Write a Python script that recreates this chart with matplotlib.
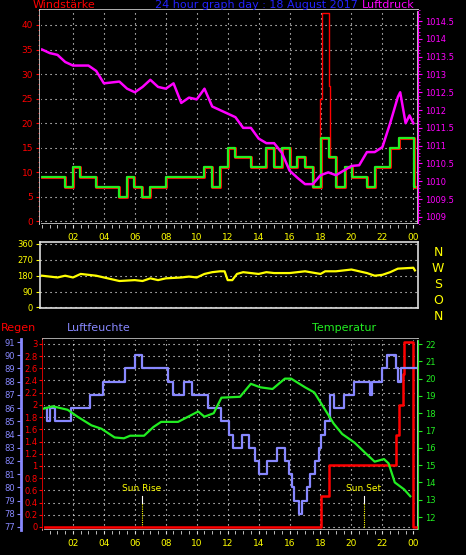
import matplotlib.pyplot as plt
import numpy as np
from matplotlib.ticker import MultipleLocator

# ---- data (hours since midnight) ----
wind_h = [0.0, 1.49, 1.98, 2.46, 3.50, 5.0, 5.48, 5.97, 6.47, 6.99, 8.0, 10.48, 10.98, 11.52, 12.02,
          12.49, 13.5, 14.48, 14.97, 15.51, 16.01, 16.48, 17.02, 17.5, 18.0, 18.53, 19.0, 19.57,
          20.04, 21.0, 21.55, 22.52, 23.06, 24.03, 24.1]
wind = [9, 7, 11, 9, 7, 5, 9, 7, 5, 7, 9, 11, 7, 11, 15, 13, 11, 15, 11, 15, 11, 13, 11, 7, 17, 13,
        7, 11, 9, 7, 11, 15, 17, 7, 7]
gust_h = [17.5, 17.95, 18.1, 18.55, 18.62, 19.0]
gust = [7, 25, 42.5, 27.5, 13, 7]

press_h = [0, 0.5, 1, 1.5, 2, 3, 3.5, 4, 5, 5.5, 6, 6.5, 7, 7.5, 8, 8.5, 9, 9.5, 10, 10.5, 11, 11.5,
           12, 12.5, 13, 13.5, 14, 14.5, 15, 15.5, 16, 16.5, 17, 17.5, 18, 18.5, 19, 19.5, 20, 20.5,
           21, 21.5, 22, 22.5, 23, 23.15, 23.5, 23.75, 24]
press = [1013.7, 1013.6, 1013.55, 1013.35, 1013.25, 1013.25, 1013.1, 1012.75, 1012.8, 1012.6,
         1012.5, 1012.65, 1012.85, 1012.65, 1012.6, 1012.75, 1012.2, 1012.35, 1012.3, 1012.6, 1012.1,
         1012.0, 1011.9, 1011.8, 1011.5, 1011.5, 1011.2, 1011.07, 1011.07, 1010.8, 1010.3, 1010.1,
         1009.92, 1009.92, 1010.17, 1010.25, 1010.17, 1010.3, 1010.43, 1010.45, 1010.82, 1010.82,
         1010.96, 1011.63, 1012.37, 1012.5, 1011.63, 1011.85, 1011.63]

dir_h = [0, 1, 1.5, 2, 2.5, 3.5, 4, 4.5, 5, 6, 6.5, 7, 7.5, 8, 9, 9.5, 10, 10.5, 11, 11.5, 11.8, 12,
         12.3, 12.6, 13, 14, 14.5, 15, 16, 17, 18, 18.3, 19, 20, 20.5, 21, 21.5, 22, 22.5, 23, 24, 24.1]
direction = [180, 170, 180, 170, 190, 180, 170, 160, 150, 155, 150, 165, 155, 165, 170, 175, 170, 190,
             200, 205, 205, 155, 155, 190, 200, 190, 200, 195, 195, 205, 190, 205, 205, 215, 205, 195,
             180, 185, 200, 220, 225, 210]

hum_h = [0.0, 0.30, 0.52, 0.84, 1.88, 3.11, 3.97, 5.37, 6.02, 6.49, 8.13, 8.46, 9.15, 9.69, 10.70,
         11.56, 12.10, 12.32, 12.96, 13.35, 13.79, 14.0, 14.54, 15.19, 15.73, 15.94, 16.16, 16.31,
         16.59, 16.81, 17.13, 17.34, 17.67, 17.88, 18.04, 18.32, 18.64, 18.86, 19.50, 20.15, 21.23,
         21.34, 21.98, 22.31, 22.85, 23.0, 23.17, 24.14]
hum = [86, 85, 86, 85, 86, 87, 88, 89, 90, 89, 88, 87, 88, 87, 86, 85, 84, 83, 84, 83, 82, 81, 82,
       83, 82, 81, 80, 79, 78, 79, 80, 81, 82, 83, 84, 85, 87, 86, 87, 88, 87, 88, 89, 90, 89, 88, 89, 89]

temp_h = [0.0, 0.7, 1.66, 2.3, 3.2, 3.85, 4.7, 5.3, 5.7, 6.6, 7.2, 7.7, 8.8, 9.45, 10.1, 10.5, 11.1,
          11.6, 12.8, 13.5, 14.1, 14.9, 15.7, 16.1, 17.0, 17.6, 18.3, 18.85, 19.4, 20.2, 20.9, 21.5,
          22.1, 22.4, 22.8, 23.4, 23.8]
temp = [18.24, 18.4, 18.2, 17.8, 17.3, 17.1, 16.6, 16.55, 16.7, 16.7, 17.2, 17.5, 17.5, 17.8, 18.1,
        17.8, 18.0, 18.9, 18.95, 19.7, 19.5, 19.4, 20.0, 20.0, 19.5, 19.2, 18.2, 17.4, 16.8, 16.3,
        15.7, 15.2, 15.35, 15.1, 14.0, 13.6, 13.2]

rain_h = [0.0, 18.05, 18.55, 22.9, 23.1, 23.3, 23.4, 24.0, 24.15]
rain = [0, 0.5, 1.02, 1.5, 2.0, 2.5, 3.03, 0, 0]

hour_ticks = list(range(2, 25, 2))
hour_labels = ['%02d' % (h % 24) for h in hour_ticks]
sun_rise, sun_set = 6.45, 20.8

W, H = 466, 555
BG = 'black'
FS = 6.5
plt.rcParams['font.family'] = 'DejaVu Sans'

fig = plt.figure(figsize=(W / 100, H / 100), dpi=100, facecolor=BG)


def box(x0, y0, x1, y1):
    return [x0 / W, 1 - y1 / H, (x1 - x0) / W, (y1 - y0) / H]


def style(ax, left_col):
    ax.set_facecolor(BG)
    for s in ax.spines.values():
        s.set_color('#dddddd')
        s.set_linewidth(1.2)
    ax.tick_params(axis='y', colors=left_col, labelsize=FS, length=3, pad=2)
    ax.tick_params(axis='y', which='minor', colors=left_col, length=1.5)
    ax.grid(True, color='white', linestyle=(0, (1, 3.5)), linewidth=0.8)


# ---- top panel: wind and pressure ----
ax1 = fig.add_axes(box(40, 10, 418, 224))
style(ax1, 'red')
ax1.set_xlim(-0.13, 24.3)
ax1.set_ylim(-0.6, 43.06)
ax1.yaxis.set_major_locator(MultipleLocator(5))
ax1.yaxis.set_minor_locator(MultipleLocator(1))
ax1.set_xticks(hour_ticks)
ax1.set_xticklabels(hour_labels)
ax1.xaxis.set_minor_locator(MultipleLocator(0.5))
ax1.tick_params(axis='x', colors='#dddddd', labelcolor='yellow', labelsize=FS, length=3)
ax1.tick_params(axis='x', which='minor', colors='#dddddd', length=3)
ax1.step(gust_h, gust, where='post', color='red', lw=1.0, zorder=3)
ax1.step(wind_h, wind, where='post', color='red', lw=2.2, zorder=3)
ax1.step(wind_h, wind, where='post', color='#22ee22', lw=1.6, zorder=4)

ax1p = ax1.twinx()
ax1p.set_ylim(1008.80, 1014.81)
ax1p.yaxis.set_major_locator(MultipleLocator(0.5))
ax1p.yaxis.set_minor_locator(MultipleLocator(0.1))
ax1p.tick_params(axis='y', colors='magenta', labelsize=FS - 0.5, length=3, pad=2)
ax1p.tick_params(axis='y', which='minor', colors='magenta', length=1.5)
ax1p.spines['right'].set_color('magenta')
ax1p.yaxis.set_major_formatter(plt.FuncFormatter(lambda v, p: ('%.1f' % v).replace('.0', '')))
ax1p.plot(press_h, press, color='magenta', lw=1.8, zorder=2)

fig.text(33 / W, 1 - 0.5 / H, 'Windstärke', color='red', fontsize=8, ha='left', va='top')
fig.text(256 / W, 1 - 0.5 / H, '24 hour graph day : 18 August 2017', color='#2222ff', fontsize=8,
         ha='center', va='top')
fig.text(415 / W, 1 - 0.5 / H, 'Luftdruck', color='magenta', fontsize=8, ha='right', va='top')

# ---- middle panel: wind direction ----
ax2 = fig.add_axes(box(40, 242, 418, 308))
style(ax2, 'yellow')
ax2.set_xlim(-0.13, 24.3)
ax2.set_ylim(-3, 371)
ax2.set_yticks([0, 90, 180, 270, 360])
ax2.set_yticklabels(['0', '90', '180', '270', '360'], fontsize=FS - 0.5)
ax2.set_xticks(hour_ticks)
ax2.tick_params(axis='x', length=0, labelbottom=False)
ax2.grid(True, axis='y', color='white', linestyle=(0, (1, 3.5)), linewidth=0.8)
ax2.grid(False, axis='x')
ax2.plot(dir_h, direction, color='yellow', lw=1.6)
for i, c in enumerate(['N', 'W', 'S', 'O', 'N']):
    fig.text(438 / W, 1 - (252 + i * 16) / H, c, color='yellow', fontsize=9, ha='center', va='center')

# ---- bottom panel: rain, humidity, temperature ----
ax3 = fig.add_axes(box(43, 339, 418, 530))
style(ax3, 'red')
ax3.set_xlim(0.07, 24.3)
ax3.set_ylim(-0.05, 3.08)
ax3.yaxis.set_major_locator(MultipleLocator(0.2))
ax3.yaxis.set_major_formatter(plt.FuncFormatter(lambda v, p: ('%.1f' % v).rstrip('0').rstrip('.') if abs(v) > 1e-9 else '0'))
ax3.tick_params(axis='y', labelsize=FS - 0.5, pad=1)
ax3.set_xticks(hour_ticks)
ax3.set_xticklabels(hour_labels)
ax3.xaxis.set_minor_locator(MultipleLocator(0.5))
ax3.tick_params(axis='x', colors='#dddddd', labelcolor='yellow', labelsize=FS, length=3)
ax3.tick_params(axis='x', which='minor', colors='#dddddd', length=3)
ax3.spines['left'].set_color('red')
ax3.plot(rain_h, rain, color='red', lw=1.8, drawstyle='steps-post', zorder=5)

ax3h = ax3.twinx()
ax3h.yaxis.set_ticks_position('left')
ax3h.yaxis.set_label_position('left')
ax3h.spines['left'].set_visible(True)
ax3h.spines['left'].set_position(('outward', 16))
ax3h.spines['left'].set_color('#8888ff')
ax3h.spines['left'].set_linewidth(2)
ax3h.spines['right'].set_visible(False)
ax3h.set_ylim(76.77, 91.23)
ax3h.yaxis.set_major_locator(MultipleLocator(1))
ax3h.tick_params(axis='y', colors='#8888ff', labelsize=FS - 0.5, length=3, pad=1)
ax3h.step(hum_h, hum, where='post', color='#8888ff', lw=1.6, zorder=3)

ax3t = ax3.twinx()
ax3t.set_ylim(11.25, 22.29)
ax3t.yaxis.set_major_locator(MultipleLocator(1))
ax3t.spines['right'].set_color('#22ee22')
ax3t.tick_params(axis='y', colors='#22ee22', labelsize=FS - 0.5, length=3, pad=2)
ax3t.plot(temp_h, temp, color='#22ee22', lw=1.6, zorder=4)

for h, label in [(sun_rise, 'Sun Rise'), (sun_set, 'Sun Set')]:
    ax3.plot([h, h], [0, 0.4], color='yellow', lw=0.8, linestyle=(0, (1, 1)))
    ax3.plot([h, h], [0.4, 0.5], color='white', lw=0.8)
    ax3.text(h, 0.55, label, color='yellow', fontsize=FS, ha='center', va='bottom')

fig.text(1 / W, 1 - 331 / H, 'Regen', color='red', fontsize=8, ha='left')
fig.text(67 / W, 1 - 331 / H, 'Luftfeuchte', color='#8888ff', fontsize=8, ha='left')
fig.text(312 / W, 1 - 331 / H, 'Temperatur', color='#22ee22', fontsize=8, ha='left')

fig.savefig('out.png', dpi=100, facecolor=BG)
